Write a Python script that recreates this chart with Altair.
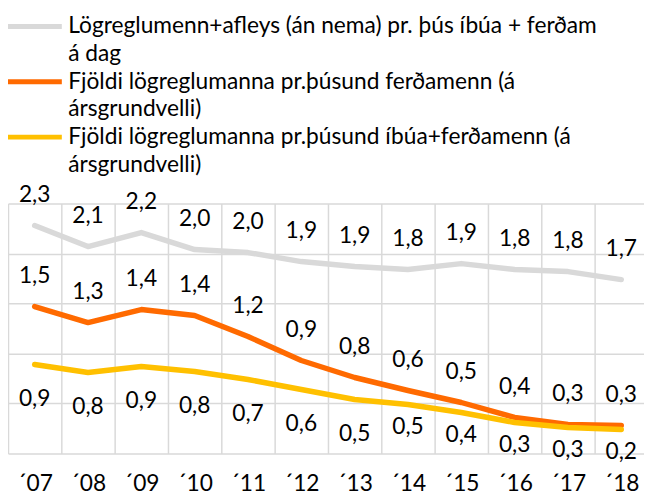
import altair as alt
import pandas as pd

years = ["´07", "´08", "´09", "´10", "´11", "´12", "´13", "´14", "´15", "´16", "´17", "´18"]
gray_vals = [2.28, 2.07, 2.21, 2.04, 2.01, 1.92, 1.87, 1.84, 1.90, 1.84, 1.82, 1.74]
orange_vals = [1.47, 1.31, 1.44, 1.38, 1.17, 0.93, 0.76, 0.63, 0.51, 0.36, 0.29, 0.28]
yellow_vals = [0.89, 0.81, 0.87, 0.82, 0.74, 0.64, 0.54, 0.49, 0.41, 0.31, 0.26, 0.24]

series_keys = ["s1", "s2", "s3"]
legend_keys = ["s1", "s1b", "s2", "s2b", "s3", "s3b"]
legend_lines = [
    "Lögreglumenn+afleys (án nema) pr. þús íbúa + ferðam",
    "á dag",
    "Fjöldi lögreglumanna pr.þúsund ferðamenn (á",
    "ársgrundvelli)",
    "Fjöldi lögreglumanna pr.þúsund íbúa+ferðamenn (á",
    "ársgrundvelli)",
]
colors = ["#D9D9D9", "transparent", "#FF6A00", "transparent", "#FFC000", "transparent"]
# label placement per series: gray/orange above, yellow below (closer near the bottom)
label_pos = {"s1": "above", "s2": "above", "s3": "below"}
late_years = ["´14", "´15", "´16", "´17", "´18"]

rows = []
for key, vals in zip(series_keys, [gray_vals, orange_vals, yellow_vals]):
    for y, v in zip(years, vals):
        pos = label_pos[key]
        if pos == "below" and y in late_years:
            pos = "below2"
        rows.append({"year": y, "value": v, "series": key, "pos": pos})
df = pd.DataFrame(rows)

label_expr = ""
for k, t in zip(legend_keys, legend_lines):
    label_expr += f"datum.label == '{k}' ? '{t}' : "
label_expr += "datum.label"

FONT = "Lato"
FS = 23

x_enc = alt.X(
    "year:O",
    sort=years,
    scale=alt.Scale(range=[0, 648], paddingInner=0, paddingOuter=0),
    axis=alt.Axis(
        title=None, labelAngle=0, ticks=False, domain=False, grid=True,
        tickBand="extent", labelFontSize=FS, labelFont=FONT, labelColor="black",
        labelPadding=20, gridColor="#D9D9D9", gridWidth=1.5,
    ),
)
y_enc = alt.Y(
    "value:Q",
    scale=alt.Scale(domain=[0, 2.5], nice=False, zero=True),
    axis=alt.Axis(
        title=None, labels=False, ticks=False, domain=False, grid=True,
        values=[0, 0.5, 1.0, 1.5, 2.0, 2.5], gridColor="#D9D9D9", gridWidth=1.5,
    ),
)

base = alt.Chart(df)

lines = base.mark_line(strokeWidth=5.5, strokeCap="round", strokeJoin="round").encode(
    x=x_enc,
    y=y_enc,
    color=alt.Color(
        "series:N",
        scale=alt.Scale(domain=legend_keys, range=colors),
        legend=alt.Legend(
            title=None, orient="none", legendX=-3, legendY=-193, direction="vertical",
            symbolType="stroke", symbolSize=3025, symbolStrokeWidth=5,
            labelFontSize=FS, labelFont=FONT, labelColor="black", labelLimit=0,
            labelOffset=4, rowPadding=0, clipHeight=27.4, padding=0, labelExpr=label_expr,
        ),
    ),
    detail="series:N",
)

lab = "replace(format(datum.value, '.1f'), '.', ',')"


def labels(pos, dy):
    return base.transform_filter(f"datum.pos == '{pos}'").transform_calculate(lbl=lab).mark_text(
        dy=dy, fontSize=FS, font=FONT, color="black"
    ).encode(x=x_enc, y=y_enc, text="lbl:N")


chart = alt.layer(
    lines, labels("above", -31), labels("below", 35), labels("below2", 23)
).properties(
    width=644, height=253,
    autosize=alt.AutoSizeParams(type="none"),
    padding={"left": 0, "top": 195, "right": 0, "bottom": 40},
).configure_view(stroke=None)

chart.save("out.html", embed_options={"renderer": "svg", "actions": False})
